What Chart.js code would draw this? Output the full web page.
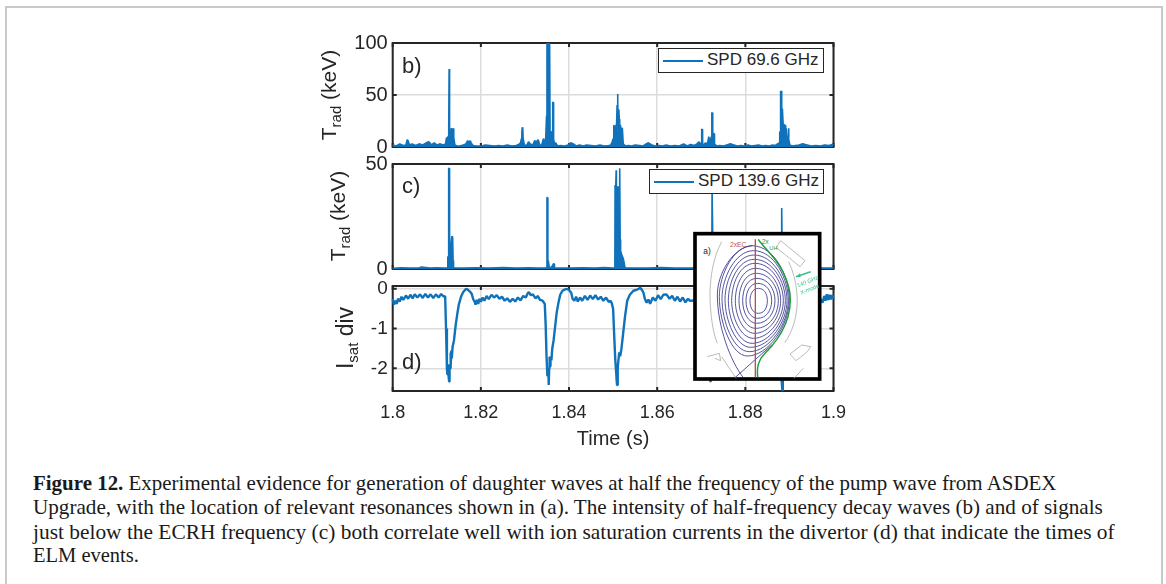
<!DOCTYPE html>
<html>
<head>
<meta charset="utf-8">
<title>Figure 12</title>
<script src="https://cdn.jsdelivr.net/npm/chart.js@4"></script>
<style>
  html, body { margin: 0; padding: 0; background: #fff; }
  body { width: 1166px; height: 584px; position: relative; overflow: hidden; font-family: "Liberation Sans", Arial, sans-serif; color: #262626; }
  #frame { position: absolute; left: 5px; top: 6px; width: 1158px; height: 600px; border: 2px solid #c9c9c9; box-sizing: border-box; }
  canvas { position: absolute; }
  .ylabel { position: absolute; white-space: nowrap; transform: translate(-50%, -50%) rotate(-90deg); font-size: 21px; line-height: 1; }
  .ylabel sub { font-size: 15px; vertical-align: -5px; line-height: 0; }
  .tag { position: absolute; font-size: 22px; line-height: 1; }
  .legend { position: absolute; background: #fff; border: 1.5px solid #262626; box-sizing: border-box; font-size: 17px; line-height: 22px; white-space: nowrap; }
  .legend i { position: absolute; top: 11px; height: 2px; background: #0f72ba; }
  .legend span { position: absolute; top: 0; }
  #xlabel { position: absolute; left: 613px; top: 428px; transform: translateX(-50%); font-size: 20px; line-height: 1; white-space: nowrap; }
  #inset { position: absolute; left: 690px; top: 230px; width: 140px; height: 155px; }
  .cap { position: absolute; left: 33px; font-family: "Liberation Serif", serif; line-height: 24px; white-space: nowrap; color: #1a1a1a; }
</style>
</head>
<body>
<div id="frame"></div>
<canvas id="panelB" width="520" height="130" style="left:340px;top:30px"></canvas>
<canvas id="panelC" width="520" height="130" style="left:340px;top:152px"></canvas>
<canvas id="panelD" width="520" height="170" style="left:340px;top:275px"></canvas>

<div class="ylabel" style="left:328px;top:95px">T<sub>rad</sub>&nbsp;(keV)</div>
<div class="ylabel" style="left:337px;top:216px">T<sub>rad</sub>&nbsp;(keV)</div>
<div class="ylabel" style="left:345px;top:338px;font-size:23px">I<sub>sat</sub>&nbsp;div</div>
<div class="tag" style="left:402px;top:55px">b)</div>
<div class="tag" style="left:402px;top:175px">c)</div>
<div class="tag" style="left:402px;top:351px">d)</div>
<div id="xlabel">Time (s)</div>

<div class="legend" style="left:658px;top:48px;width:166px;height:25px"><i style="left:4px;width:40px"></i><span style="left:48px">SPD 69.6 GHz</span></div>
<div class="legend" style="left:649px;top:169px;width:175px;height:25px"><i style="left:4px;width:40px"></i><span style="left:48px">SPD 139.6 GHz</span></div>

<svg id="inset" viewBox="0 0 420 465" xmlns="http://www.w3.org/2000/svg">
  <rect x="15" y="11" width="374" height="436" fill="#fff" stroke="#000" stroke-width="11"/>
  <g fill="none" stroke="#a9a9a9" stroke-width="2.4">
    <path d="M95 35 C65 90 55 170 62 240 C66 285 72 315 82 340"/>
    <path d="M272 32 L345 92 L330 110 L258 52 Z"/>
    <path d="M296 95 C322 150 330 220 312 280 C304 305 296 322 284 338"/>
    <path d="M300 372 L335 345 L362 350 L352 365 L318 392 Z"/>
    <path d="M52 380 L88 370 L92 392 L75 385"/>
    <path d="M95 380 L125 425 L138 445"/>
    <path d="M340 415 L312 445"/>
  </g>
  <g fill="none" stroke="#3a3a90" stroke-width="2.6">
    <path d="M205 175 C222 175 232 190 232 212 C232 235 222 250 205 250 C190 250 180 235 180 212 C180 190 190 175 205 175 Z"/>
    <path d="M203 160 C228 160 245 182 245 212 C245 242 228 265 203 265 C182 265 168 242 168 212 C168 182 182 160 203 160 Z"/>
    <path d="M201 145 C233 145 255 176 255 212 C255 248 233 280 200 280 C176 280 158 248 158 212 C158 176 172 145 201 145 Z"/>
    <path d="M199 130 C238 130 265 170 265 212 C265 254 238 295 197 295 C168 295 147 254 147 212 C147 170 165 130 199 130 Z"/>
    <path d="M197 115 C242 115 272 165 272 212 C272 260 238 310 194 310 C160 310 136 258 136 212 C136 165 158 115 197 115 Z"/>
    <path d="M195 100 C245 100 280 160 280 212 C280 265 240 325 190 325 C152 325 125 262 125 212 C125 160 150 100 195 100 Z"/>
    <path d="M193 88 C248 88 286 155 286 212 C286 270 240 340 186 340 C145 340 115 266 115 212 C115 155 145 88 193 88 Z"/>
    <path d="M192 75 C250 75 291 150 291 212 C291 275 240 352 182 352 C138 352 105 270 105 208 C105 150 140 75 192 75 Z"/>
    <path d="M191 62 C252 62 295 145 295 212 C295 280 238 365 178 365 C130 365 96 274 96 205 C96 145 135 62 191 62 Z"/>
    <path d="M188 47 C255 50 298 140 298 210 C298 285 235 378 172 378 C125 378 88 278 88 200 C88 135 130 47 188 47 Z"/>
    <path d="M188 47 C130 50 82 130 82 195 C82 290 122 395 160 443"/>
    <path d="M135 443 L245 345"/>
  </g>
  <path d="M196 28 L196 442" stroke="#b5534f" stroke-width="4" fill="none"/>
  <path d="M205 28 C225 60 285 100 300 190 C308 270 265 330 225 370 C205 390 200 410 203 442" stroke="#1f9a3c" stroke-width="4.4" fill="none"/>
  <path d="M318 140 L362 125" stroke="#3bbf8c" stroke-width="5" fill="none"/>
  <path d="M318 140 L330 130 L332 142 Z" fill="#3bbf8c"/>
  <text x="120" y="52" font-size="20" fill="#b5534f" font-family="Liberation Sans">2xEC</text>
  <text x="215" y="42" font-size="20" fill="#1f9a3c" font-family="Liberation Sans">2x</text>
  <text x="238" y="60" font-size="17" fill="#1f9a3c" font-family="Liberation Sans">UH</text>
  <text x="40" y="72" font-size="25" fill="#222" font-family="Liberation Sans">a)</text>
  <text transform="translate(324 172) rotate(-22)" font-size="17" fill="#3bbf8c" font-family="Liberation Sans">140 GHz</text>
  <text transform="translate(334 194) rotate(-22)" font-size="17" fill="#3bbf8c" font-family="Liberation Sans">X-mode</text>
</svg>

<div class="cap" style="top:471px;font-size:20.95px"><b>Figure 12.</b> Experimental evidence for generation of daughter waves at half the frequency of the pump wave from ASDEX</div>
<div class="cap" style="top:495px;font-size:21.15px">Upgrade, with the location of relevant resonances shown in (a). The intensity of half-frequency decay waves (b) and of signals</div>
<div class="cap" style="top:520px;font-size:21.4px">just below the ECRH frequency (c) both correlate well with ion saturation currents in the divertor (d) that indicate the times of</div>
<div class="cap" style="top:543px;font-size:20.5px">ELM events.</div>

<script>
// tick labels
const timeTicks = [1.8, 1.82, 1.84, 1.86, 1.88, 1.9];
const ticksB = [0, 50, 100];
const ticksC = [0, 50];
const ticksD = [-2, -1, 0];

// SPD 69.6 GHz
const timeB = [
  1.8000,1.8008,1.8016,1.8024,1.8030,1.8033,1.8035,1.8038,1.8044,1.8052,
  1.8060,1.8068,1.8076,1.8082,1.8088,1.8094,1.8100,1.8108,1.8114,1.8120,
  1.8122,1.8124,1.8125,1.8127,1.8128,1.8129,1.8130,1.8132,1.8133,1.8135,
  1.8136,1.8137,1.8138,1.8139,1.8141,1.8146,1.8152,1.8160,1.8166,1.8170,
  1.8173,1.8176,1.8178,1.8182,1.8190,1.8200,1.8210,1.8220,1.8230,1.8240,
  1.8250,1.8260,1.8270,1.8280,1.8286,1.8290,1.8292,1.8293,1.8294,1.8295,
  1.8296,1.8297,1.8299,1.8304,1.8308,1.8312,1.8318,1.8322,1.8326,1.8330,
  1.8334,1.8338,1.8342,1.8345,1.8347,1.8349,1.8350,1.8351,1.8352,1.8353,
  1.8354,1.8355,1.8356,1.8357,1.8359,1.8361,1.8362,1.8363,1.8364,1.8365,
  1.8367,1.8370,1.8374,1.8380,1.8390,1.8398,1.8404,1.8410,1.8416,1.8424,
  1.8432,1.8440,1.8450,1.8460,1.8470,1.8480,1.8490,1.8495,1.8498,1.8500,
  1.8501,1.8502,1.8504,1.8506,1.8508,1.8509,1.8510,1.8511,1.8512,1.8513,
  1.8514,1.8515,1.8516,1.8517,1.8518,1.8519,1.8520,1.8521,1.8522,1.8523,
  1.8528,1.8535,1.8542,1.8550,1.8560,1.8568,1.8575,1.8580,1.8588,1.8596,
  1.8604,1.8612,1.8620,1.8630,1.8640,1.8650,1.8660,1.8668,1.8676,1.8684,
  1.8690,1.8695,1.8698,1.8700,1.8701,1.8702,1.8703,1.8705,1.8710,1.8714,
  1.8717,1.8719,1.8721,1.8723,1.8724,1.8725,1.8726,1.8727,1.8729,1.8730,
  1.8735,1.8742,1.8750,1.8758,1.8766,1.8774,1.8782,1.8790,1.8798,1.8806,
  1.8814,1.8822,1.8830,1.8838,1.8846,1.8854,1.8862,1.8868,1.8873,1.8877,
  1.8878,1.8879,1.8880,1.8881,1.8882,1.8883,1.8884,1.8885,1.8886,1.8887,
  1.8888,1.8889,1.8890,1.8891,1.8892,1.8893,1.8894,1.8895,1.8896,1.8897,
  1.8898,1.8899,1.8901,1.8906,1.8914,1.8922,1.8930,1.8940,1.8950,1.8960,
  1.8970,1.8980,1.8990,1.9000
];
const tradB = [
  2,1,3,1.5,2,7,6,2,3,1.5,
  3,2,4,5,2,4,2,3,2,3,
  9,8,10,9,75,9,10,9,18,17,
  18,10,18,9,2,1,1,2,3,6,
  5,6,4,1.5,1,0.8,2,1.5,1,1.5,
  1,2,1,1.5,2.5,4,8,14,19,18,
  7,5,2,1.5,5,3,2,6,5,7,
  1.5,2,8,5,7,30,100,60,100,70,
  100,60,100,14,15,13,14,43,43,8,
  3,4,1,1.5,1,2,4,3,1,2,
  1,2,1.5,1,2,1,1.5,2,5,8,
  20,21,19,20,22,40,51,40,27,36,
  27,20,21,20,12,18,18,18,18,3,
  1,1.5,1,2,1.5,1,3,4,2,1,
  1.5,1,2,1,1.5,1,3,1,2.5,1.5,
  3,5,2,4,17,17,3,2,4,3,
  10,6,7,10,33,33,8,13,13,3,
  1,1.5,1,2,3,2,1,1.5,1,2,
  1,1.5,2,1,1.5,1,2,1.5,3,4,
  15,12,54,40,54,22,37,37,20,22,
  14,21,21,12,10,18,18,9,8,9,
  18,7,2,1,1.5,2,3,2,1,1.5,
  1,2,1.5,3
];

// SPD 139.6 GHz
const timeC = [
  1.8000,1.8020,1.8040,1.8060,1.8065,1.8085,1.8100,1.8115,1.8124,1.8125,
  1.8126,1.8127,1.8128,1.8129,1.8130,1.8134,1.8135,1.8136,1.8137,1.8138,
  1.8160,1.8190,1.8220,1.8250,1.8280,1.8310,1.8330,1.8349,1.8350,1.8351,
  1.8352,1.8353,1.8354,1.8355,1.8360,1.8365,1.8366,1.8367,1.8375,1.8400,
  1.8430,1.8460,1.8480,1.8500,1.85040,1.85045,1.8506,1.8507,1.85075,1.8509,
  1.85095,1.8511,1.85115,1.8513,1.85135,1.8515,1.8516,1.8517,1.8519,1.8521,
  1.8523,1.8525,1.8527,1.8550,1.8580,1.8610,1.8640,1.8670,1.8700,1.8724,
  1.87245,1.8726,1.8727,1.8750,1.8780,1.8810,1.8850,1.8881,1.8882,1.8883,
  1.8884,1.8920,1.8950,1.9000
];
const tradC = [
  0.3,0.6,0.4,0.5,0.9,0.4,0.6,0.5,0.6,5.5,
  6,48,48,8,6,15.5,15.5,15,4,0.6,
  0.4,0.6,0.4,0.7,0.4,0.6,0.5,0.6,34,34,
  4,4,4,1,0.6,2.5,2.5,0.5,0.5,0.4,
  0.6,0.4,0.7,0.5,0.6,40,39,47,39,39,
  39,39,39,39,39,48,14,9,7,6,
  5,3,0.6,0.5,0.4,0.7,0.5,0.4,0.6,0.6,
  38,38,0.6,0.4,0.6,0.5,0.4,0.6,29,29,
  0.6,0.5,0.4,0.5
];

// Isat divertor
const timeD = [
  1.8000,1.8003,1.8006,1.8009,1.8012,1.8016,1.8020,1.8024,1.8030,1.8035,
  1.8040,1.8045,1.8050,1.8056,1.8062,1.8068,1.8074,1.8080,1.8086,1.8092,
  1.8098,1.8104,1.8110,1.8116,1.8119,1.8121,1.8123,1.8124,1.8125,1.8126,
  1.8128,1.8129,1.8130,1.8131,1.8132,1.8133,1.8134,1.8136,1.8139,1.8143,
  1.8147,1.8150,1.8155,1.8160,1.8165,1.8168,1.8172,1.8176,1.8179,1.8183,
  1.8186,1.8188,1.8191,1.8194,1.8197,1.8200,1.8204,1.8208,1.8213,1.8218,
  1.8224,1.8230,1.8236,1.8242,1.8248,1.8254,1.8260,1.8266,1.8272,1.8278,
  1.8284,1.8290,1.8296,1.8302,1.8306,1.8309,1.8313,1.8318,1.8324,1.8329,
  1.8334,1.8340,1.8345,1.8347,1.8349,1.8351,1.8353,1.8354,1.8355,1.8356,
  1.8357,1.8358,1.8360,1.8362,1.8365,1.8368,1.8372,1.8376,1.8380,1.8385,
  1.8390,1.8395,1.8400,1.8405,1.8408,1.8412,1.8416,1.8420,1.8425,1.8430,
  1.8436,1.8442,1.8448,1.8454,1.8460,1.8466,1.8472,1.8478,1.8484,1.8490,
  1.8494,1.8497,1.8500,1.8503,1.8505,1.8507,1.8508,1.8509,1.8510,1.8511,
  1.8512,1.8514,1.8516,1.8519,1.8523,1.8527,1.8532,1.8538,1.8546,1.8552,
  1.8558,1.8561,1.8565,1.8569,1.8572,1.8576,1.8580,1.8584,1.8590,1.8596,
  1.8602,1.8608,1.8614,1.8621,1.8628,1.8634,1.8640,1.8646,1.8652,1.8658,
  1.8664,1.8670,1.8674,1.8680,1.8690,1.8700,1.8710,1.8716,1.8719,1.8721,
  1.8723,1.8726,1.8730,1.8736,1.8744,1.8752,1.8760,1.8770,1.8780,1.8800,
  1.8820,1.8840,1.8860,1.8872,1.8878,1.8881,1.8884,1.8885,1.8887,1.8890,
  1.8895,1.8903,1.8912,1.8925,1.8940,1.8955,1.8970,1.8975,1.8979,1.8982,
  1.8985,1.8988,1.8991,1.8994,1.8997,1.9000
];
const isatD = [
  -0.25,-0.4,-0.3,-0.38,-0.25,-0.32,-0.2,-0.28,-0.17,-0.25,
  -0.15,-0.24,-0.14,-0.22,-0.14,-0.23,-0.13,-0.22,-0.14,-0.23,
  -0.14,-0.22,-0.13,-0.2,-0.18,-1.0,-2.0,-2.15,-1.9,-2.1,
  -2.33,-1.9,-2.0,-1.6,-1.95,-1.55,-1.75,-1.45,-1.3,-0.9,
  -0.6,-0.4,-0.2,-0.08,-0.02,0,-0.04,-0.08,-0.12,-0.27,
  -0.33,-0.4,-0.28,-0.38,-0.25,-0.33,-0.22,-0.3,-0.18,-0.26,
  -0.15,-0.22,-0.16,-0.25,-0.2,-0.3,-0.24,-0.33,-0.25,-0.32,
  -0.22,-0.29,-0.18,-0.22,-0.12,-0.08,-0.16,-0.14,-0.24,-0.18,
  -0.28,-0.3,-0.38,-0.9,-1.7,-2.2,-2.05,-2.42,-2.0,-1.7,
  -1.95,-1.7,-1.8,-1.5,-1.3,-1.0,-0.6,-0.35,-0.15,-0.05,
  -0.02,0,-0.03,-0.1,-0.25,-0.3,-0.2,-0.32,-0.22,-0.3,
  -0.18,-0.28,-0.17,-0.26,-0.16,-0.27,-0.2,-0.3,-0.22,-0.33,
  -0.3,-0.36,-0.5,-1.3,-1.8,-2.1,-2.3,-2.42,-2.2,-2.0,
  -1.8,-1.6,-1.7,-1.5,-1.1,-0.7,-0.3,-0.15,-0.05,-0.03,
  0,0.03,-0.02,-0.1,-0.25,-0.35,-0.27,-0.38,-0.22,-0.3,
  -0.16,-0.26,-0.15,-0.14,-0.25,-0.18,-0.3,-0.2,-0.32,-0.22,
  -0.34,-0.25,-0.3,-0.3,-0.25,-0.3,-0.35,-1.0,-1.9,-2.35,
  -2.0,-1.5,-0.9,-0.3,-0.05,-0.2,-0.3,-0.2,-0.3,-0.25,
  -0.3,-0.25,-0.3,-0.4,-1.3,-2.1,-2.55,-2.3,-1.8,-1.4,
  -0.6,-0.1,-0.2,-0.28,-0.22,-0.3,-0.25,-0.35,-0.18,-0.3,
  -0.14,-0.28,-0.15,-0.27,-0.16,-0.25
];

const BLUE = '#0f72ba';
const AXIS = '#262626';

// MATLAB style box with inward ticks, drawn under the trace
const boxPlugin = {
  id: 'box',
  beforeDatasetsDraw(chart) {
    const { ctx, chartArea: a, scales } = chart;
    ctx.save();
    ctx.strokeStyle = AXIS;
    ctx.lineWidth = 2;
    ctx.strokeRect(a.left, a.top, a.right - a.left, a.bottom - a.top);
    ctx.beginPath();
    scales.x.ticks.forEach(t => {
      const px = scales.x.getPixelForValue(t.value);
      ctx.moveTo(px, a.bottom); ctx.lineTo(px, a.bottom - 4);
      ctx.moveTo(px, a.top); ctx.lineTo(px, a.top + 4);
    });
    scales.y.ticks.forEach(t => {
      const py = scales.y.getPixelForValue(t.value);
      ctx.moveTo(a.left, py); ctx.lineTo(a.left + 4, py);
      ctx.moveTo(a.right, py); ctx.lineTo(a.right - 4, py);
    });
    ctx.stroke();
    ctx.restore();
  }
};

function makePanel(id, times, values, opts) {
  return new Chart(document.getElementById(id), {
    type: 'scatter',
    data: {
      datasets: [{
        data: times.map((t, i) => ({ x: t, y: values[i] })),
        showLine: true,
        borderColor: BLUE,
        backgroundColor: BLUE,
        fill: opts.filled ? 'origin' : false,
        borderWidth: opts.lineWidth,
        borderJoinStyle: 'bevel',
        pointRadius: 0,
        clip: false
      }]
    },
    options: {
      responsive: false,
      animation: false,
      layout: { padding: { top: opts.top, right: 26.5, left: 0, bottom: 0 } },
      plugins: { legend: { display: false }, tooltip: { enabled: false } },
      scales: {
        x: {
          type: 'linear',
          min: 1.8,
          max: 1.9,
          afterBuildTicks: s => { s.ticks = timeTicks.map(v => ({ value: v })); },
          afterFit: s => { s.height = opts.xHeight; s.paddingLeft = 0; s.paddingRight = 0; },
          grid: { color: '#dcdcdc', lineWidth: 1.5, drawTicks: false },
          border: { display: false },
          ticks: {
            display: opts.showX,
            color: AXIS,
            padding: 11,
            maxRotation: 0,
            font: { family: 'Liberation Sans', size: 18 },
            callback: v => String(Number(v.toFixed(2)))
          }
        },
        y: {
          type: 'linear',
          min: opts.yMin,
          max: opts.yMax,
          afterBuildTicks: s => { s.ticks = opts.yTicks.map(v => ({ value: v })); },
          // tick label overhang must not shrink the plot box
          afterFit: s => { s.width = 52.7; s.paddingTop = 0; s.paddingBottom = 0; },
          grid: { color: '#dcdcdc', lineWidth: 1.5, drawTicks: false },
          border: { display: false },
          ticks: {
            color: AXIS,
            padding: 5,
            font: { family: 'Liberation Sans', size: opts.yFont },
            callback: v => String(v)
          }
        }
      }
    },
    plugins: [boxPlugin]
  });
}

makePanel('panelB', timeB, tradB, { top: 13, xHeight: 13, yMin: 0, yMax: 100, yTicks: ticksB, lineWidth: 1.6, filled: true, showX: false, yFont: 20 });
makePanel('panelC', timeC, tradC, { top: 12, xHeight: 13, yMin: 0, yMax: 50, yTicks: ticksC, lineWidth: 1.6, filled: true, showX: false, yFont: 20 });
makePanel('panelD', timeD, isatD, { top: 11, xHeight: 54, yMin: -2.57, yMax: 0.07, yTicks: ticksD, lineWidth: 2.4, filled: false, showX: true, yFont: 19 });
</script>
</body>
</html>
